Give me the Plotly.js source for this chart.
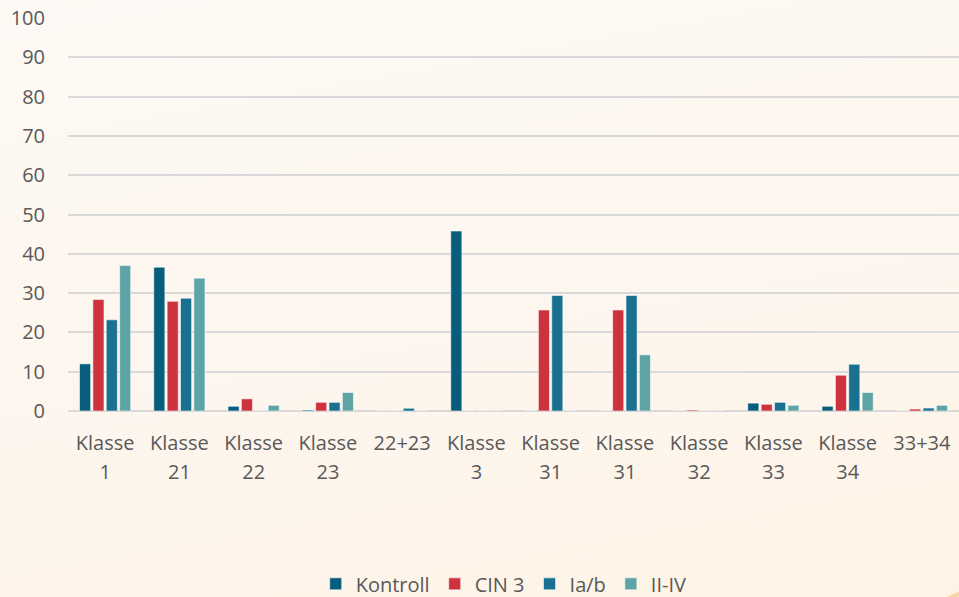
<!DOCTYPE html>
<html>
<head>
<meta charset="utf-8">
<script src="https://cdn.plot.ly/plotly-3.0.1.min.js"></script>
<style>
  html, body { margin: 0; padding: 0; }
  body { width: 959px; height: 597px; overflow: hidden;
         background: linear-gradient(170deg, #fdf9f4 0%, #fdf6ee 55%, #fff3e6 100%); }
  #chart { width: 959px; height: 597px; }
</style>
</head>
<body>
<div id="chart"></div>
<script>
const categories = ["Klasse 1","Klasse 21","Klasse 22","Klasse 23","22+23","Klasse 3","Klasse 31","Klasse 31","Klasse 32","Klasse 33","Klasse 34","33+34"];
const kontroll = [12, 36.6, 1.2, 0.25, 0, 45.8, 0, 0, 0, 2.0, 1.2, 0];
const cin3     = [28.4, 27.9, 3.1, 2.2, 0, 0, 25.7, 25.7, 0.25, 1.7, 9.1, 0.5];
const iab      = [23.2, 28.7, 0, 2.2, 0.7, 0, 29.4, 29.4, 0, 2.2, 11.9, 0.75];
const iiiv     = [37, 33.8, 1.45, 4.7, 0, 0, 0, 14.3, 0, 1.45, 4.7, 1.45];
const seriesNames = ["Kontroll", "CIN 3", "Ia/b", "II-IV"];
const yTicks = [0,10,20,30,40,50,60,70,80,90,100];

const colors = ["#075e7c", "#cd333d", "#19708f", "#5ea3a6"];
const idx = categories.map((c, i) => i);
const line1 = categories.map(c => c.split(" ")[0]);
const line2 = categories.map(c => c.split(" ")[1] || "");
const font = "'Open Sans', Lato, sans-serif";
const txt = "#595959";

const data = [kontroll, cin3, iab, iiiv].map((vals, k) => ({
  type: "bar",
  name: seriesNames[k],
  x: idx,
  y: vals,
  marker: { color: colors[k], line: { color: "rgba(255,255,255,0.55)", width: 1 } },
  hoverinfo: "y+name"
}));
data.push({ type: "scatter", x: idx, y: idx.map(() => null), xaxis: "x2", showlegend: false, hoverinfo: "skip" });

const layout = {
  width: 959, height: 597,
  margin: { l: 68, r: 0, t: 18, b: 186 },
  paper_bgcolor: "rgba(0,0,0,0)",
  plot_bgcolor: "rgba(0,0,0,0)",
  barmode: "group",
  bargap: 0.28,
  bargroupgap: 0.17,
  font: { family: font, color: txt, size: 20 },
  xaxis: {
    range: [-0.5, 11.5], automargin: false,
    tickmode: "array", tickvals: idx, ticktext: line1,
    showgrid: false, zeroline: false, showline: false, ticks: "",
    tickfont: { family: font, size: 20, color: txt },
    ticklabelstandoff: 18
  },
  xaxis2: {
    overlaying: "x", anchor: "y", side: "bottom", automargin: false,
    range: [-0.5, 11.5],
    tickmode: "array", tickvals: idx, ticktext: line2,
    showgrid: false, zeroline: false, showline: false, ticks: "",
    tickfont: { family: font, size: 20, color: txt },
    ticklabelstandoff: 47
  },
  yaxis: {
    range: [0, 100], automargin: false,
    tickmode: "array", tickvals: yTicks, ticktext: yTicks.map(String),
    showgrid: true, gridcolor: "#d9d9d9", gridwidth: 2,
    zeroline: true, zerolinecolor: "#d9d9d9", zerolinewidth: 2,
    showline: false, ticks: "",
    tickfont: { family: font, size: 20, color: txt },
    ticklabelstandoff: 22
  },
  legend: {
    orientation: "h", x: 0.489, xanchor: "center",
    yref: "container", y: 0.022, yanchor: "middle",
    font: { family: font, size: 20, color: txt },
    itemwidth: 30, traceorder: "normal"
  },
  shapes: [{
    type: "path", xref: "paper", yref: "paper", layer: "below",
    path: "M 0.968 -0.5 Q 0.99 -0.475 1.01 -0.455",
    line: { color: "#fcd3a4", width: 4 }
  }],
  showlegend: true
};

Plotly.newPlot("chart", data, layout, { displayModeBar: false, staticPlot: true });
</script>
</body>
</html>
